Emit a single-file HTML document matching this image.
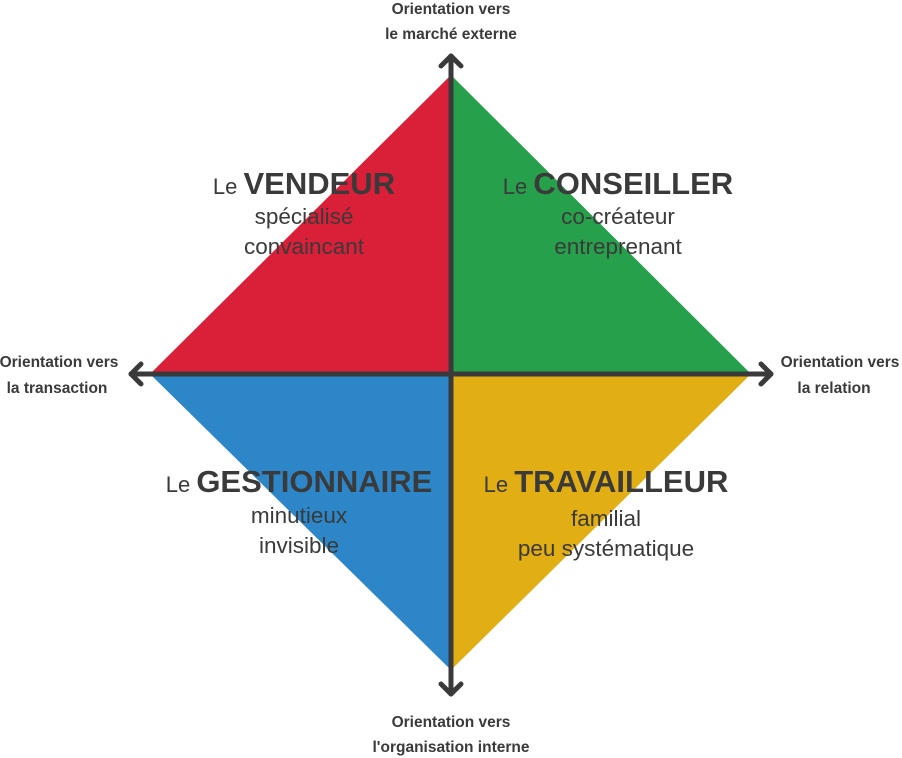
<!DOCTYPE html>
<html><head><meta charset="utf-8"><style>
html,body{margin:0;padding:0;background:#fff;}
svg{display:block;font-family:"Liberation Sans",sans-serif;}
</style></head><body>
<svg width="902" height="758" viewBox="0 0 902 758" xmlns="http://www.w3.org/2000/svg">
<polygon points="451,75 451,374 150,374" fill="#da1f38"/>
<polygon points="451,75 751,374 451,374" fill="#27a04b"/>
<polygon points="150,374 451,374 451,670" fill="#2c86c8"/>
<polygon points="451,374 751,374 451,670" fill="#e1ae13"/>
<g stroke="#3a3a3a" stroke-width="5" fill="none" stroke-linecap="round" stroke-linejoin="round">
<line x1="451" y1="56" x2="451" y2="694"/>
<line x1="131" y1="374" x2="771" y2="374"/>
<polyline points="441,66 451,56 461,66"/>
<polyline points="441,684 451,694 461,684"/>
<polyline points="141,364 131,374 141,384"/>
<polyline points="761,364 771,374 761,384"/>
</g>
<g fill="#3a3a3a" font-size="15.5" font-weight="bold" text-anchor="middle">
<text x="451" y="14">Orientation vers</text>
<text x="451" y="39">le marché externe</text>
<text x="59" y="367">Orientation vers</text>
<text x="57" y="393">la transaction</text>
<text x="840" y="367">Orientation vers</text>
<text x="834" y="393">la relation</text>
<text x="451" y="727">Orientation vers</text>
<text x="451" y="752">l'organisation interne</text>
</g>
<g fill="#3a3a3a" text-anchor="middle" font-size="22.5">
<text x="304" y="194"><tspan font-size="22">Le </tspan><tspan font-size="31" font-weight="bold">VENDEUR</tspan></text>
<text x="304" y="224">spécialisé</text>
<text x="304" y="254">convaincant</text>
<text x="618" y="194"><tspan font-size="22">Le </tspan><tspan font-size="31" font-weight="bold">CONSEILLER</tspan></text>
<text x="618" y="224">co-créateur</text>
<text x="618" y="254">entreprenant</text>
<text x="299" y="492"><tspan font-size="22">Le </tspan><tspan font-size="31" font-weight="bold">GESTIONNAIRE</tspan></text>
<text x="299" y="523">minutieux</text>
<text x="299" y="553">invisible</text>
<text x="606" y="492"><tspan font-size="22">Le </tspan><tspan font-size="31" font-weight="bold">TRAVAILLEUR</tspan></text>
<text x="606" y="526">familial</text>
<text x="606" y="556">peu systématique</text>
</g>
</svg>
</body></html>
